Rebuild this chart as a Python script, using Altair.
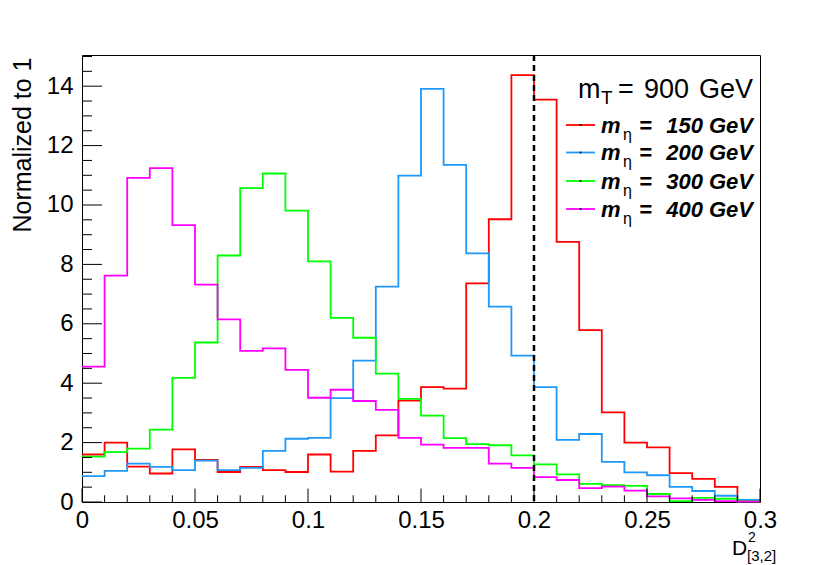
import altair as alt
import pandas as pd

# ---- data (bin contents, bin width 0.01 from 0 to 0.3) ----
bin_width = 0.01
n_bins = 30
red_150 = [1.60, 2.00, 1.19, 0.96, 1.77, 1.42, 1.01, 1.18, 1.07, 1.01,
           1.60, 1.02, 1.72, 2.24, 3.41, 3.87, 3.82, 7.36, 9.52, 14.37,
           13.55, 8.76, 5.79, 3.02, 2.00, 1.84, 0.97, 0.78, 0.51, 0.05]
blue_200 = [0.87, 1.05, 1.29, 1.18, 1.07, 1.39, 1.07, 1.15, 1.72, 2.13,
            2.16, 3.50, 4.76, 7.25, 10.99, 13.91, 11.35, 8.37, 6.58, 4.93,
            3.87, 2.09, 2.29, 1.35, 1.00, 0.90, 0.51, 0.37, 0.21, 0.07]
green_300 = [1.53, 1.68, 1.80, 2.44, 4.18, 5.37, 8.30, 10.57, 11.06, 9.81,
             8.10, 6.20, 5.53, 4.32, 3.47, 2.91, 2.15, 1.95, 1.91, 1.57,
             1.27, 0.93, 0.61, 0.57, 0.54, 0.27, 0.03, 0.14, 0.11, 0.02]
magenta_400 = [4.56, 7.62, 10.91, 11.24, 9.32, 7.32, 6.15, 5.09, 5.17, 4.45,
               3.51, 3.78, 3.40, 3.10, 2.16, 1.93, 1.82, 1.82, 1.29, 1.15,
               0.84, 0.74, 0.47, 0.52, 0.38, 0.19, 0.12, 0.07, 0.03, 0.01]
series_names = ["150", "200", "300", "400"]
series_values = [red_150, blue_200, green_300, magenta_400]
series_colors = ["#ff0000", "#1f98f8", "#00ff00", "#ff00ff"]

x_major = [0, 0.05, 0.1, 0.15, 0.2, 0.25, 0.3]
x_minor = [round(i * 0.01, 2) for i in range(31) if i % 5 != 0]
y_major = [0, 2, 4, 6, 8, 10, 12, 14]
y_minor = [i * 0.5 for i in range(31) if i % 4 != 0]
cut_value = 0.2

# ---- build table ----
rows = []
for name, vals in zip(series_names, series_values):
    for i, v in enumerate(vals):
        rows.append({"x": round(i * bin_width, 3), "y": v, "s": name})
    rows.append({"x": round(n_bins * bin_width, 3), "y": vals[-1], "s": name})
df = pd.DataFrame(rows)

W, H = 678, 447
FONT = "Liberation Sans"

xscale = alt.Scale(domain=[0, 0.3], nice=False, zero=False)
yscale = alt.Scale(domain=[0, 15.05], nice=False)
xaxis = alt.Axis(values=x_major, format="~g", domain=False, ticks=False, grid=False,
                 labelFontSize=24, labelFont=FONT, labelColor="black",
                 labelPadding=6, labelFlush=False, title=None)
yaxis = alt.Axis(values=y_major, domain=False, ticks=False, grid=False,
                 labelFontSize=24, labelFont=FONT, labelColor="black",
                 labelPadding=9, labelFlush=False,
                 title="Normalized to 1", titleFont=FONT, titleFontSize=25,
                 titleFontWeight="normal", titleColor="black",
                 titleAngle=270, titleAlign="right", titleBaseline="middle",
                 titleX=-60, titleY=2)

hist = alt.Chart(df).mark_line(interpolate="step-after", strokeWidth=1.8).encode(
    x=alt.X("x:Q", scale=xscale, axis=xaxis),
    y=alt.Y("y:Q", scale=yscale, axis=yaxis),
    color=alt.Color("s:N", scale=alt.Scale(domain=series_names, range=series_colors), legend=None),
)

cut = alt.Chart(pd.DataFrame({"c": [cut_value]})).mark_rule(
    color="black", strokeWidth=2.5, strokeDash=[6, 4]).encode(
    x=alt.X("c:Q", scale=xscale, axis=xaxis), y=alt.value(0), y2=alt.value(H))

def xticks(vals, length):
    return alt.Chart(pd.DataFrame({"v": vals})).mark_rule(color="black", strokeWidth=1).encode(
        x=alt.X("v:Q", scale=xscale, axis=xaxis), y=alt.value(H), y2=alt.value(H - length))

def yticks(vals, length):
    return alt.Chart(pd.DataFrame({"v": vals})).mark_rule(color="black", strokeWidth=1).encode(
        y=alt.Y("v:Q", scale=yscale, axis=yaxis), x=alt.value(0), x2=alt.value(length))

one = alt.Data(values=[{}])

def txt(s, x, y, size, align="left", weight="normal", style="normal"):
    return alt.Chart(one).mark_text(
        text=s, align=align, baseline="alphabetic", font=FONT, fontSize=size,
        fontWeight=weight, fontStyle=style, color="black").encode(
        x=alt.value(x), y=alt.value(y))

layers = [hist, cut, xticks(x_major, 13.4), xticks(x_minor, 6.7),
          yticks(y_major, 20), yticks(y_minor, 10)]

# header  m_T = 900 GeV
layers += [txt("m", 496, 43, 27), txt("T", 519, 49, 19), txt("=", 536, 43, 27),
           txt("900", 562, 43, 27), txt("GeV", 671, 43, 27, align="right")]

# legend entries
row_y = [70, 97.5, 126, 154]
for name, col, ly in zip(series_names, series_colors, row_y):
    layers.append(alt.Chart(one).mark_rule(color=col, strokeWidth=1.8).encode(
        x=alt.value(484), x2=alt.value(513), y=alt.value(ly)))
    layers.append(alt.Chart(one).mark_square(color="black", size=3, opacity=1).encode(
        x=alt.value(498.5), y=alt.value(ly)))
    by = ly + 7.5
    layers += [txt("m", 519, by, 22, weight="bold", style="italic"),
               txt("η", 541, by + 7, 16),
               txt("=", 557, by, 22, weight="bold", style="italic"),
               txt(f"{name} GeV", 671, by, 22, align="right", weight="bold", style="italic")]

# x title D^2_[3,2]
layers += [txt("D", 650, 500, 21), txt("2", 666, 487, 14), txt("[3,2]", 665, 506, 15)]

chart = alt.layer(*layers).properties(
    width=W, height=H,
    autosize="none",
    padding={"left": 74, "top": 47, "right": 60, "bottom": 62},
    background="white",
).configure_view(stroke="black", strokeWidth=1)

chart.save("out.html", embed_options={"renderer": "svg", "actions": False})
